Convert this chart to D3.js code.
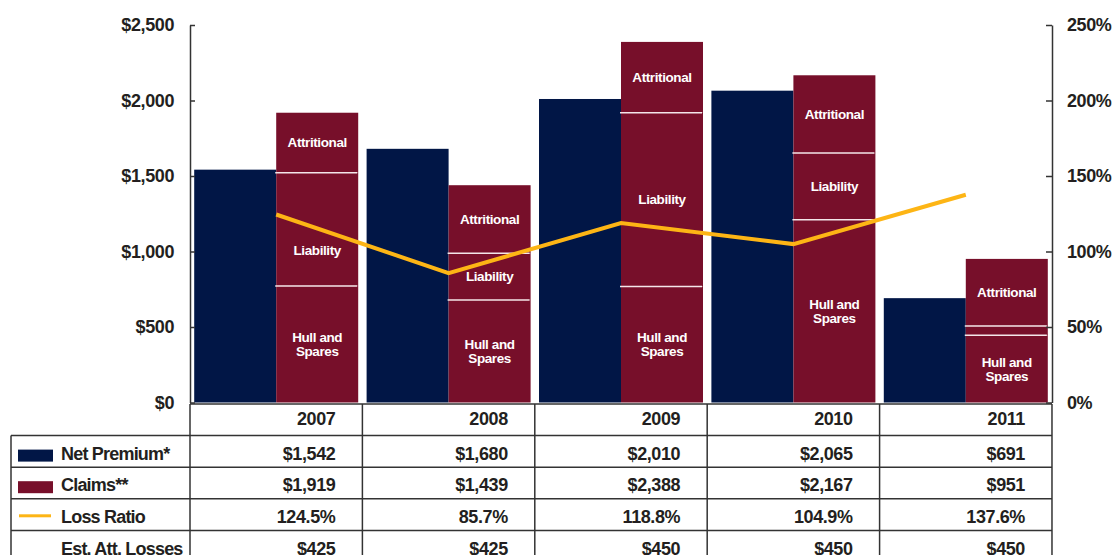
<!DOCTYPE html>
<html>
<head>
<meta charset="utf-8">
<script src="https://cdn.jsdelivr.net/npm/d3@7"></script>
<style>
  body { margin: 0; background: #fff; }
  svg { display: block; font-family: "Liberation Sans", Arial, sans-serif; }
</style>
</head>
<body>
<div id="chart"></div>
<script>
// Premium vs claims, with loss ratio on the right axis

const years = ["2007", "2008", "2009", "2010", "2011"];
const netPremium = [1542, 1680, 2010, 2065, 691];
const claims = [1919, 1439, 2388, 2167, 951];
const lossRatio = [124.5, 85.7, 118.8, 104.9, 137.6];
const estAttLosses = [425, 425, 450, 450, 450];

// claims split into parts
const hullSpares = [772, 679, 769, 1211, 445];
const liability = [750, 309, 1150, 441, 62];
const attritional = [397, 451, 469, 515, 444];

const rowLabels = ["Net Premium*", "Claims**", "Loss Ratio", "Est. Att. Losses"];

const width = 1117,
    height = 555,
    margin = ({ top: 25, right: 65, bottom: 152.5, left: 190 });

const navy = "#011646",
    maroon = "#770f2a",
    gold = "#fdb515",
    ink = "#231f20";

const svg = d3.select("#chart")
  .append("svg")
  .attr("width", width)
  .attr("height", height)
  .attr("viewBox", [0, 0, width, height]);

const x = d3.scaleBand()
  .domain(years)
  .range([margin.left, width - margin.right])
  .paddingInner(0.0487)
  .paddingOuter(0.0244);

const xs = d3.scaleBand()
  .domain(["premium", "claims"])
  .range([0, x.bandwidth()]);

const y = d3.scaleLinear()
  .domain([0, 2500])
  .range([height - margin.bottom, margin.top]);

const yR = d3.scaleLinear()
  .domain([0, 250])
  .range([height - margin.bottom, margin.top]);

// bars
const data = years.map((yr, i) => ({
  year: yr,
  premium: netPremium[i],
  ratio: lossRatio[i],
  hull: hullSpares[i],
  liability: liability[i],
  attritional: attritional[i]
}));

svg.append("g")
  .selectAll("rect")
  .data(data)
  .join("rect")
    .attr("x", d => x(d.year) + xs("premium"))
    .attr("y", d => y(d.premium))
    .attr("width", xs.bandwidth())
    .attr("height", d => y(0) - y(d.premium))
    .attr("fill", navy);

const stack = d3.stack().keys(["hull", "liability", "attritional"]);
const series = stack(data);

const segs = svg.append("g")
  .selectAll("g")
  .data(series)
  .join("g");

segs.selectAll("rect")
  .data(s => s.map(d => Object.assign(d, { key: s.key })))
  .join("rect")
    .attr("x", d => x(d.data.year) + xs("claims"))
    .attr("y", d => y(d[1]))
    .attr("width", xs.bandwidth())
    .attr("height", d => y(d[0]) - y(d[1]))
    .attr("fill", maroon);

// white separators between the parts
svg.append("g")
  .selectAll("line")
  .data(series.slice(0, 2).flatMap(s => s))
  .join("line")
    .attr("x1", d => x(d.data.year) + xs("claims") - 1)
    .attr("x2", d => x(d.data.year) + xs("claims") + xs.bandwidth() - 1)
    .attr("y1", d => y(d[1]))
    .attr("y2", d => y(d[1]))
    .attr("stroke", "#f4e6e9")
    .attr("stroke-width", 1.5);

const names = { hull: ["Hull and", "Spares"], liability: ["Liability"], attritional: ["Attritional"] };

// y of the loss ratio line at the middle of a claims bar
const lineX = d => x(d.year) + x.bandwidth() / 2;
const lineAt = px => {
  for (let i = 0; i < data.length - 1; i++) {
    const a = data[i], b = data[i + 1];
    if (px >= lineX(a) && px <= lineX(b)) {
      const t = (px - lineX(a)) / (lineX(b) - lineX(a));
      return yR(a.ratio + t * (b.ratio - a.ratio));
    }
  }
  return -100;
};

const labelY = d => {
  let cy = (y(d[0]) + y(d[1])) / 2;
  const ly = lineAt(x(d.data.year) + xs("claims") + xs.bandwidth() / 2);
  if (Math.abs(cy - ly) < 14) cy = ly + 22; // keep text off the line
  return cy - (names[d.key].length - 1) * 7;
};

const labels = svg.append("g")
  .attr("fill", "#fff")
  .attr("font-size", 13.5)
  .attr("font-weight", "bold")
  .attr("letter-spacing", -0.4)
  .attr("text-anchor", "middle")
  .selectAll("text")
  .data(series.flatMap(s => s).filter(d => y(d[0]) - y(d[1]) > 20))
  .join("text")
    .attr("x", d => x(d.data.year) + xs("claims") + xs.bandwidth() / 2)
    .attr("y", labelY);

labels.selectAll("tspan")
  .data(d => names[d.key])
  .join("tspan")
    .attr("x", function () { return this.parentNode.getAttribute("x"); })
    .attr("dy", (t, i) => i === 0 ? "0.35em" : 14)
    .text(t => t);

// loss ratio line
svg.append("path")
  .datum(data)
  .attr("fill", "none")
  .attr("stroke", gold)
  .attr("stroke-width", 4)
  .attr("d", d3.line()
    .x(lineX)
    .y(d => yR(d.ratio)));

// axes
const styleAxis = g => {
  g.select(".domain").attr("stroke", "#333").attr("stroke-width", 1.5);
  g.selectAll(".tick line").attr("stroke", "#333").attr("stroke-width", 1.5);
  g.selectAll(".tick text")
    .attr("fill", ink)
    .attr("font-size", 18)
    .attr("font-weight", "bold")
    .attr("letter-spacing", -0.4)
    .attr("font-family", null);
};

svg.append("g")
  .attr("transform", `translate(${margin.left},0)`)
  .call(d3.axisLeft(y)
    .tickValues(d3.range(0, 2501, 500))
    .tickSizeInner(-5)
    .tickSizeOuter(0)
    .tickPadding(16)
    .tickFormat(d => "$" + d3.format(",")(d)))
  .call(styleAxis);

svg.append("g")
  .attr("transform", `translate(${width - margin.right},0)`)
  .call(d3.axisRight(yR)
    .tickValues(d3.range(0, 251, 50))
    .tickSizeInner(-6)
    .tickSizeOuter(0)
    .tickPadding(15)
    .tickFormat(d => d + "%"))
  .call(styleAxis);

// data table
const rowTop = 404,
    rowH = 31.6,
    tableLeft = 11,
    x0 = x.range()[0],
    x1 = x.range()[1];
const colEdges = d3.range(years.length + 1).map(i => x0 + i * x.step());

const table = svg.append("g")
  .attr("stroke", "#333")
  .attr("stroke-width", 1.5);

// horizontal rules
table.append("line")
  .attr("x1", x0).attr("x2", x1)
  .attr("y1", rowTop).attr("y2", rowTop);
table.selectAll(".hrule")
  .data(d3.range(1, rowLabels.length + 1))
  .join("line")
    .attr("class", "hrule")
    .attr("x1", tableLeft).attr("x2", x1)
    .attr("y1", i => rowTop + i * rowH)
    .attr("y2", i => rowTop + i * rowH);

// vertical rules
table.selectAll(".vrule")
  .data(colEdges)
  .join("line")
    .attr("class", "vrule")
    .attr("x1", d => d).attr("x2", d => d)
    .attr("y1", rowTop).attr("y2", height);
table.append("line")
  .attr("x1", tableLeft).attr("x2", tableLeft)
  .attr("y1", rowTop + rowH).attr("y2", height);

const cellText = svg.append("g")
  .attr("fill", ink)
  .attr("font-size", 18)
  .attr("font-weight", "bold")
  .attr("letter-spacing", -0.4);

const rows = [
  years,
  netPremium.map(v => "$" + d3.format(",")(v)),
  claims.map(v => "$" + d3.format(",")(v)),
  lossRatio.map(v => d3.format(".1f")(v) + "%"),
  estAttLosses.map(v => "$" + d3.format(",")(v))
];

rows.forEach((vals, r) => {
  cellText.append("g")
    .attr("text-anchor", "end")
    .selectAll("text")
    .data(vals)
    .join("text")
      .attr("x", (d, i) => colEdges[i + 1] - 27)
      .attr("y", rowTop + r * rowH + rowH / 2 + (r === 0 ? -1 : 2))
      .attr("dy", "0.35em")
      .text(d => d);
});

cellText.append("g")
  .attr("letter-spacing", -0.8)
  .selectAll("text")
  .data(rowLabels)
  .join("text")
    .attr("x", 61)
    .attr("y", (d, i) => rowTop + (i + 1) * rowH + rowH / 2 + 2)
    .attr("dy", "0.35em")
    .text(d => d);

// legend swatches
const sw = svg.append("g");
sw.append("rect")
  .attr("x", 18).attr("y", rowTop + rowH + 14)
  .attr("width", 35).attr("height", 12)
  .attr("fill", navy);
sw.append("rect")
  .attr("x", 18).attr("y", rowTop + 2 * rowH + 14)
  .attr("width", 35).attr("height", 12)
  .attr("fill", maroon);
sw.append("line")
  .attr("x1", 19).attr("x2", 51)
  .attr("y1", rowTop + 3 * rowH + 17).attr("y2", rowTop + 3 * rowH + 17)
  .attr("stroke", gold)
  .attr("stroke-width", 3);
</script>
</body>
</html>
